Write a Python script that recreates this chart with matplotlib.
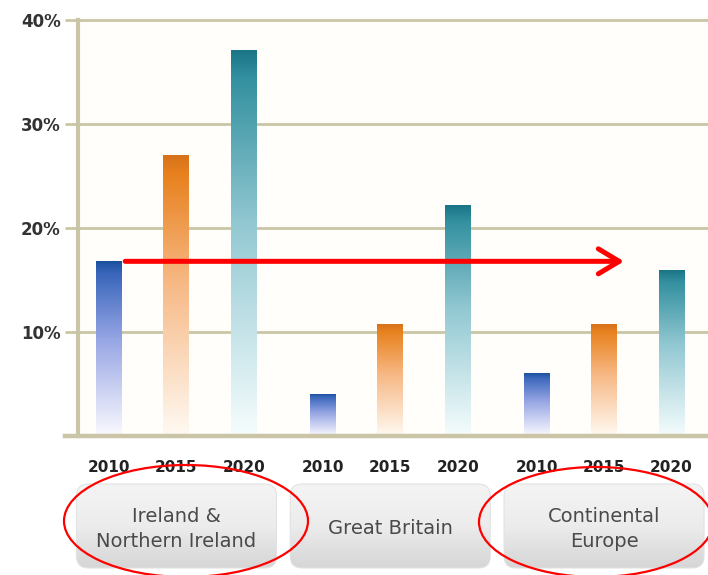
import matplotlib.pyplot as plt
import matplotlib.transforms as mtransforms
import numpy as np
from matplotlib.colors import LinearSegmentedColormap
from matplotlib.patches import FancyBboxPatch, Ellipse

# data (share in %)
years = ['2010', '2015', '2020']
groups = ['Ireland &\nNorthern Ireland', 'Great Britain', 'Continental\nEurope']
ireland = [16.8, 27.0, 37.1]
britain = [4.0, 10.7, 22.2]
europe = [6.0, 10.7, 15.9]
yticks = [10, 20, 30, 40]
ytick_labels = ['10%', '20%', '30%', '40%']

values = [ireland, britain, europe]

# gradient colours per year (bottom -> top)
year_colors = {
    '2010': ['#fbfaff', '#97a6e4', '#3a66bb', '#1b519c'],
    '2015': ['#fffaf3', '#f7b884', '#e8821f', '#d8721a'],
    '2020': ['#f6fdfd', '#92c8d2', '#33909f', '#1a7587'],
}
grid_col = '#c9c5a6'

fig = plt.figure(figsize=(7.08, 5.75), dpi=100)
ax = fig.add_axes([78 / 708, 1 - 436 / 575, 630 / 708, 419 / 575])
ax.set_facecolor('#fffefa')

gap = 0.167
width = 0.385
grad = np.linspace(0, 1, 256).reshape(-1, 1)
xs_all = []
for g, vals in enumerate(values):
    for i, v in enumerate(vals):
        x = g * (len(years) + gap) + i
        xs_all.append(x)
        cmap = LinearSegmentedColormap.from_list(
            'c', list(zip([0, 0.55, 0.93, 1.0], year_colors[years[i]])))
        ax.imshow(grad, extent=[x - width / 2, x + width / 2, 0, v], origin='lower',
                  cmap=cmap, aspect='auto', zorder=3, interpolation='bicubic')

ax.set_xlim(-0.459, 8.874)
ax.set_ylim(0, 40.3)

# axes styling
ax.set_xticks([])
ax.set_yticks(yticks)
ax.set_yticklabels(ytick_labels, fontsize=12, fontweight='bold', color='#333333')
ax.tick_params(axis='y', length=9.5, width=2, color=grid_col, pad=3)
ax.yaxis.grid(True, color=grid_col, lw=2)
ax.set_axisbelow(True)
for s in ['top', 'right', 'bottom']:
    ax.spines[s].set_visible(False)
ax.spines['left'].set_color(grid_col)
ax.spines['left'].set_linewidth(3)
ax.spines['left'].set_bounds(0, 40)

# bottom axis line (extends left past the y axis)
btrans = mtransforms.blended_transform_factory(fig.transFigure, ax.transData)
ax.plot([65 / 708, 1], [0, 0], color=grid_col, lw=3.2, transform=btrans, clip_on=False, zorder=4)

# red arrow starting at the 2010 Ireland value
ax.annotate('', xy=(7.63, ireland[0]), xytext=(xs_all[0] + 0.24, ireland[0]),
            arrowprops=dict(arrowstyle='->, head_length=0.75, head_width=0.45',
                            color='red', lw=3.6, mutation_scale=20,
                            shrinkA=0, shrinkB=0, joinstyle='round'),
            zorder=6)

# overlay in pixel coordinates for the boxes and ellipses
ov = fig.add_axes([0, 0, 1, 1], zorder=-1)
ov.set_xlim(0, 708)
ov.set_ylim(575, 0)
ov.axis('off')

trans = mtransforms.blended_transform_factory(ax.transData, fig.transFigure)
box_grad = np.linspace(0, 1, 64).reshape(-1, 1)
box_cmap = LinearSegmentedColormap.from_list('b', ['#f4f4f4', '#ececec', '#d6d6d6'])
for g, name in enumerate(groups):
    gx = xs_all[g * 3: g * 3 + 3]
    for i, yr in enumerate(years):
        ax.text(gx[i], 1 - 467 / 575, yr, transform=trans, ha='center', va='center',
                fontsize=11, fontweight='bold', color='#222222')
    cx = np.mean(gx)
    ax.text(cx, 1 - 529 / 575, name, transform=trans, ha='center', va='center',
            fontsize=14, color='#4a4a4a', linespacing=1.4)
    # group box
    px = ax.transData.transform((cx, 0))[0]
    bx0, bw, by0, bh = px - 100, 200, 484, 84
    box = FancyBboxPatch((bx0, by0), bw, bh, boxstyle='round,pad=0,rounding_size=12',
                         fc='none', ec='#e2e2e2', lw=0.8)
    ov.add_patch(box)
    im = ov.imshow(box_grad, extent=[bx0, bx0 + bw, by0 + bh, by0], origin='upper',
                   cmap=box_cmap, aspect='auto', interpolation='bicubic')
    im.set_clip_path(box)

ov.set_xlim(0, 708)
ov.set_ylim(575, 0)

# red ellipses drawn on top
ov2 = fig.add_axes([0, 0, 1, 1], zorder=10)
ov2.set_xlim(0, 708)
ov2.set_ylim(575, 0)
ov2.axis('off')
ov2.add_patch(Ellipse((186, 521), 244, 112, fill=False, ec='red', lw=1.6))
ov2.add_patch(Ellipse((596, 522), 234, 110, fill=False, ec='red', lw=1.6))

fig.savefig('out.png', dpi=100)
